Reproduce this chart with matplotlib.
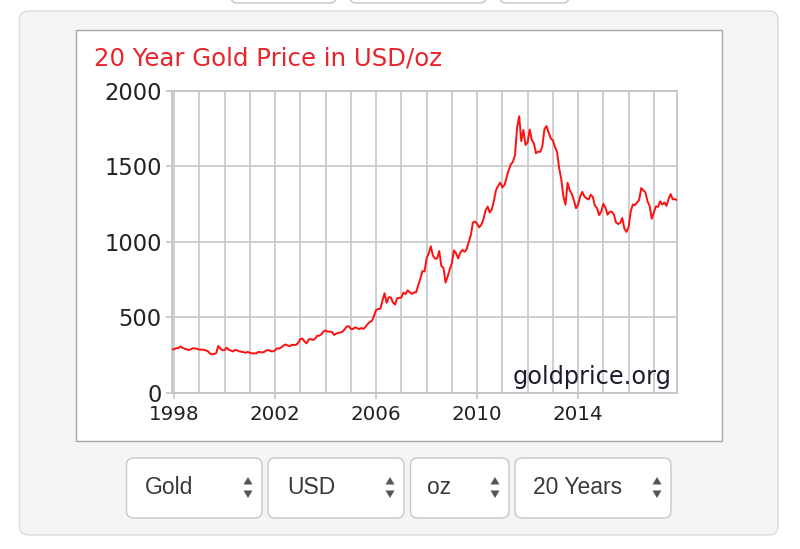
import numpy as np
import pandas as pd
import matplotlib
matplotlib.use('Agg')
import matplotlib.pyplot as plt
from matplotlib.patches import FancyBboxPatch, Polygon

# --- data: monthly gold price (USD/oz), Dec 1997 .. Dec 2017 ---
first_month = '1997-12-01'
prices = [
    289,
    289, 297, 296, 308, 299, 292, 289, 284, 289, 296, 294, 291,        # 1998
    287, 287, 286, 282, 277, 261, 256, 257, 264, 311, 293, 283,        # 1999
    284, 300, 286, 280, 275, 285, 282, 275, 273, 270, 266, 272,        # 2000
    266, 262, 263, 261, 272, 270, 268, 273, 283, 283, 276, 275,        # 2001
    282, 296, 294, 302, 314, 321, 313, 310, 319, 317, 319, 333,        # 2002
    357, 359, 340, 328, 355, 356, 351, 359, 378, 379, 389, 407,        # 2003
    414, 405, 406, 404, 384, 392, 398, 400, 405, 420, 439, 442,        # 2004
    424, 423, 434, 429, 422, 430, 424, 437, 456, 470, 476, 510,        # 2005
    549, 555, 557, 610, 660, 596, 633, 632, 598, 585, 627, 629,        # 2006
    631, 664, 654, 679, 667, 655, 665, 665, 712, 754, 806, 803,        # 2007
    889, 922, 970, 909, 888, 889, 939, 839, 829, 730, 770, 816,        # 2008
    858, 943, 924, 890, 928, 946, 934, 949, 996, 1043, 1127, 1134,     # 2009
    1118, 1095, 1113, 1148, 1205, 1232, 1193, 1215, 1271, 1342, 1370, 1391,  # 2010
    1360, 1374, 1424, 1473, 1510, 1529, 1572, 1756, 1830, 1665, 1739, 1640,  # 2011
    1656, 1742, 1673, 1650, 1585, 1596, 1594, 1630, 1744, 1765, 1721, 1684,  # 2012
    1671, 1627, 1593, 1487, 1414, 1300, 1245, 1390, 1340, 1316, 1275, 1222,  # 2013
    1244, 1300, 1330, 1299, 1287, 1279, 1311, 1296, 1238, 1223, 1176, 1200,  # 2014
    1250, 1227, 1179, 1198, 1199, 1181, 1128, 1117, 1125, 1157, 1086, 1065,  # 2015
    1097, 1200, 1246, 1242, 1260, 1276, 1355, 1341, 1326, 1267, 1236, 1152,  # 2016
    1192, 1234, 1231, 1267, 1246, 1260, 1237, 1283, 1315, 1280, 1282, 1275,  # 2017
]
dates = pd.date_range(first_month, periods=len(prices), freq='MS')
years = dates.year + (dates.month - 1) / 12

x_labels = [1998, 2002, 2006, 2010, 2014]
y_ticks = [0, 500, 1000, 1500, 2000]
dropdowns = ['Gold', 'USD', 'oz', '20 Years']

W, H = 800, 549
fig = plt.figure(figsize=(W / 100, H / 100), dpi=100)
fig.patch.set_facecolor('white')

# background layer in pixel coordinates
bg = fig.add_axes([0, 0, 1, 1], zorder=0)
bg.set_xlim(0, W)
bg.set_ylim(H, 0)
bg.axis('off')


def rbox(x0, y0, x1, y1, r, fc, ec, lw=1.0):
    bg.add_patch(FancyBboxPatch((x0, y0), x1 - x0, y1 - y0,
                                boxstyle=f'round,pad=0,rounding_size={r}',
                                fc=fc, ec=ec, lw=lw))


# partial buttons at the very top
for x0, x1 in [(231, 336), (350, 486), (500, 569)]:
    rbox(x0, -20, x1, 3, 6, 'white', '#c4c4c4', 1.0)

# grey panel
rbox(19.5, 11, 778, 535, 9, '#f5f5f5', '#dcdcdc', 1.0)
# white chart box
bg.add_patch(plt.Rectangle((76, 30), 646, 411, fc='white', ec='#a8a8a8', lw=1.0))

# title
bg.text(94, 65, '20 Year Gold Price in USD/oz', color='#e8252c', fontsize=17.6,
        family='DejaVu Sans', va='baseline', ha='left')

# dropdowns
boxes = [(126.5, 262), (268, 404), (410.5, 509), (515, 671)]
text_x = [145, 287, 427.5, 533]
for (x0, x1), tx, label in zip(boxes, text_x, dropdowns):
    rbox(x0, 458, x1, 518, 7, 'white', '#c8c8c8', 1.0)
    bg.text(tx, 488, label, fontsize=16.5, family='Liberation Sans',
            color='#3a3a3a', va='center', ha='left')
    ax_c = x1 - 14
    bg.add_patch(Polygon([[ax_c - 4.5, 484.5], [ax_c + 4.5, 484.5], [ax_c, 477]],
                         closed=True, fc='#555555', ec='none'))
    bg.add_patch(Polygon([[ax_c - 4.5, 490.5], [ax_c + 4.5, 490.5], [ax_c, 498]],
                         closed=True, fc='#555555', ec='none'))

# chart axes
left, right, top, bottom = 172, 677, 90.5, 393
ax = fig.add_axes([left / W, 1 - bottom / H, (right - left) / W, (bottom - top) / H],
                  zorder=1)
ax.set_facecolor('white')
ax.plot(years, prices, color='#ff1010', lw=1.4, zorder=3)

ax.set_xlim(years[0], years[-1])
ax.set_ylim(0, 2000)
ax.set_xticks(x_labels)
ax.set_xticks(np.arange(1998, 2018), minor=True)
ax.set_yticks(y_ticks)
ax.grid(True, which='both', axis='x', color='#cbcbcb', lw=1.3)
ax.grid(True, which='major', axis='y', color='#cbcbcb', lw=1.3)
ax.set_axisbelow(True)
for s in ax.spines.values():
    s.set_color('#c4c4c4')
    s.set_linewidth(1.3)
ax.tick_params(axis='both', which='both', length=4, color='#c4c4c4', width=1.2)
ax.tick_params(axis='x', which='minor', length=0)
ax.tick_params(axis='x', labelsize=14.3, pad=5, labelcolor='#222222')
ax.tick_params(axis='y', labelsize=16.3, pad=3.5, labelcolor='#222222')

ax.text(0.99, 0.03, 'goldprice.org', transform=ax.transAxes, ha='right',
        va='baseline', fontsize=17.3, color='#1c1c30', zorder=4)

fig.savefig('out.png', dpi=100, facecolor='white')
